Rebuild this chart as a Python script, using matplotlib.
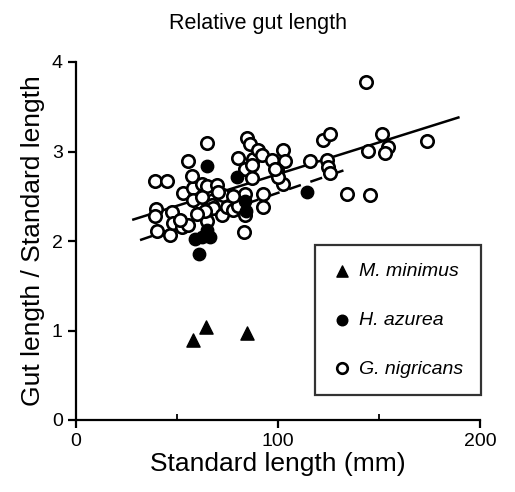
import matplotlib.pyplot as plt
import numpy as np

plt.rcParams['font.family'] = ['Liberation Sans', 'DejaVu Sans']

# M. minimus (triangles)
mm_x = [58.1, 64.2, 84.8]
mm_y = [0.89, 1.04, 0.97]

# H. azurea (filled circles)
ha_x = [65.0, 79.6, 114.2, 60.9, 59.0, 62.2, 66.3, 64.7, 83.9, 84.0]
ha_y = [2.84, 2.71, 2.55, 1.85, 2.02, 2.05, 2.04, 2.12, 2.45, 2.33]

# G. nigricans (open circles)
gn_x = [39.1, 44.9, 39.6, 39.1, 40.0, 46.5, 47.4, 48.2, 52.3, 55.6,
        51.5, 53.1, 58.1, 55.6, 57.3, 64.7, 62.2, 64.7, 69.6, 58.1,
        62.2, 67.2, 68.0, 72.9, 72.1, 74.6, 77.9, 80.4, 80.4, 84.5,
        86.1, 83.7, 87.0, 87.8, 90.3, 91.9, 96.9, 102.6, 103.5, 99.3,
        92.7, 92.7, 102.6, 100.2, 83.7, 83.7, 83.2, 115.8, 122.4, 125.7,
        124.1, 124.9, 125.7, 134.0, 143.4, 173.6, 151.3, 154.6, 153.0, 144.4,
        145.5, 64.7, 63.9, 77.9, 87.0, 98.5, 70.5, 60.0]
gn_y = [2.67, 2.67, 2.36, 2.28, 2.11, 2.07, 2.32, 2.20, 2.16, 2.18,
        2.23, 2.54, 2.59, 2.89, 2.73, 3.10, 2.64, 2.62, 2.63, 2.46,
        2.49, 2.40, 2.37, 2.51, 2.29, 2.38, 2.35, 2.39, 2.93, 3.15,
        3.08, 2.80, 2.70, 2.92, 3.02, 2.96, 2.91, 3.02, 2.89, 2.79,
        2.53, 2.38, 2.64, 2.71, 2.53, 2.29, 2.10, 2.89, 3.13, 3.20,
        2.91, 2.83, 2.76, 2.53, 3.78, 3.12, 3.20, 3.05, 2.98, 3.01,
        2.51, 2.22, 2.33, 2.50, 2.85, 2.80, 2.55, 2.30]

# regression lines (end points)
fit_all_x = [28.4, 189.3]
fit_all_y = [2.24, 3.38]
fit_dash_x = [31.7, 136.5]
fit_dash_y = [2.01, 2.82]

fig = plt.figure(figsize=(5.15, 4.92), dpi=100)
ax = fig.add_axes([76/515, 1-420/492, 404/515, 358/492])

ax.plot(fit_all_x, fit_all_y, color='k', lw=1.8, zorder=2)
ax.plot(fit_dash_x, fit_dash_y, color='k', lw=1.8, ls=(0, (5, 4)), zorder=2)

ax.scatter(gn_x, gn_y, s=80, facecolors='white', edgecolors='k', linewidths=1.9,
           zorder=3, label='G. nigricans')
ax.scatter(ha_x, ha_y, s=80, color='k', zorder=4, label='H. azurea')
ax.scatter(mm_x, mm_y, s=90, marker='^', color='k', zorder=4, label='M. minimus')

ax.set_xlim(0, 200)
ax.set_ylim(0, 4)
ax.set_xticks([0, 100, 200])
ax.set_xticks([50, 150], minor=True)
ax.set_yticks([0, 1, 2, 3, 4])
ax.spines['top'].set_visible(False)
ax.spines['right'].set_visible(False)
ax.spines['left'].set_linewidth(1.6)
ax.spines['bottom'].set_linewidth(1.6)
ax.tick_params(axis='both', which='major', length=6, width=1.6, labelsize=14)
ax.tick_params(axis='x', which='minor', direction='in', length=4, width=1.3)

ax.set_xlabel('Standard length (mm)', fontsize=19, labelpad=1)
ax.set_ylabel('Gut length / Standard length', fontsize=19, labelpad=5)
fig.text(258/515, 1-24/492, 'Relative gut length', fontsize=15.5, ha='center', va='center')

# legend box: triangle, filled, open (top to bottom)
h, l = ax.get_legend_handles_labels()
order = [2, 1, 0]
leg = ax.legend([h[i] for i in order], [l[i] for i in order],
                loc='lower right', bbox_to_anchor=((481-76)/404, 25/358),
                borderaxespad=0,
                prop={'style': 'italic', 'size': 14}, frameon=True, fancybox=False,
                edgecolor='k', handletextpad=0.4, labelspacing=1.6,
                borderpad=0.9, markerscale=0.85, handlelength=1.0)
leg.get_frame().set_linewidth(1.6)

fig.savefig('out.png', dpi=100)
